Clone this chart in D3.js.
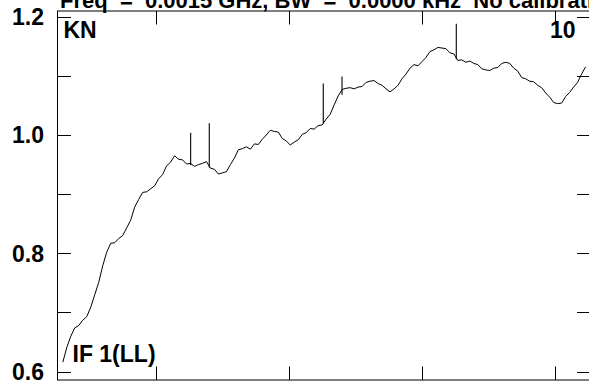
<!DOCTYPE html>
<html><head><meta charset="utf-8">
<script src="https://cdn.jsdelivr.net/npm/d3@7"></script>
<style>
html,body{margin:0;padding:0;background:#fff;overflow:hidden;}
text{font-family:"Liberation Sans",Arial,sans-serif;font-weight:bold;fill:#000;white-space:pre;}
</style></head>
<body><svg id="c" width="589" height="383"></svg>
<script>
// ---- data ----
const title = "Freq  =  0.0015 GHz, BW  =  0.0000 kHz  No calibration";
const cornerLabels = ["KN", "10", "IF 1(LL)"];
const yTickLabels = [0.6, 0.8, 1.0, 1.2];
const yMinorTicks = [0.6, 0.7, 0.8, 0.9, 1.0, 1.1, 1.2];
const xTicks = [100, 200, 300, 400];
const chanStart = 30, chanStep = 3;
const amplitude = [
0.616,0.641,0.660,0.674,0.678,0.687,0.693,0.709,0.730,0.751,
0.779,0.802,0.817,0.818,0.825,0.830,0.843,0.856,0.878,0.891,
0.903,0.904,0.909,0.914,0.926,0.933,0.948,0.954,0.965,0.959,
0.958,0.951,0.952,0.947,0.950,0.952,0.955,0.944,0.942,0.934,
0.936,0.938,0.950,0.961,0.975,0.977,0.980,0.976,0.985,0.984,
0.993,1.000,1.008,1.006,1.005,0.994,0.990,0.983,0.988,0.992,
1.001,1.004,1.011,1.010,1.016,1.017,1.027,1.035,1.051,1.066,
1.077,1.079,1.080,1.078,1.081,1.082,1.089,1.091,1.092,1.087,
1.084,1.078,1.073,1.078,1.084,1.095,1.103,1.113,1.119,1.117,
1.124,1.131,1.141,1.144,1.148,1.147,1.146,1.139,1.137,1.126,
1.127,1.123,1.125,1.121,1.119,1.112,1.110,1.109,1.113,1.114,
1.121,1.123,1.121,1.113,1.108,1.097,1.095,1.091,1.090,1.084,
1.080,1.071,1.064,1.055,1.053,1.054,1.065,1.072,1.081,1.089,
1.103,1.115];
const spikeChan = [126.1, 140.1, 225.8, 239.9, 325.8];
const spikeTop  = [1.004, 1.020, 1.087, 1.099, 1.188];
const spikeBase = [0.949, 0.945, 1.020, 1.068, 1.128];

// ---- layout ----
const L = 57.5, R = 590.5, T = 11, B = 380;
const x = d3.scaleLinear().domain([26, 426.7]).range([L, R]);
const y = d3.scaleLinear().domain([0.5859, 1.2096]).range([B, T]);
const svg = d3.select("#c");
const tickLen = 13.5;
const fs = 23;

// frame
svg.append("rect").attr("x", L).attr("y", T).attr("width", R - L).attr("height", B - T)
  .attr("fill", "none").attr("stroke", "#000").attr("stroke-width", 1);

// y ticks (both sides, inward)
const yt = svg.append("g").attr("stroke", "#000").attr("stroke-width", 1);
yMinorTicks.forEach(v => {
  const yy = Math.round(y(v)) + 0.5;
  yt.append("line").attr("x1", L).attr("x2", L + tickLen).attr("y1", yy).attr("y2", yy);
  yt.append("line").attr("x1", R).attr("x2", R - tickLen).attr("y1", yy).attr("y2", yy);
});
// x ticks (top and bottom, inward)
xTicks.forEach(v => {
  const xx = Math.round(x(v)) + 0.5;
  yt.append("line").attr("x1", xx).attr("x2", xx).attr("y1", T).attr("y2", T + tickLen);
  yt.append("line").attr("x1", xx).attr("x2", xx).attr("y1", B).attr("y2", B - tickLen);
});
// y labels
svg.append("g").selectAll("text").data(yTickLabels).join("text")
  .attr("x", 44).attr("y", d => y(d) + 8.3).attr("text-anchor", "end")
  .attr("font-size", fs).text(d => d.toFixed(1));

// title (partly clipped at top)
svg.append("text").attr("x", 60).attr("y", 7.5).attr("font-size", 22).text(title);

// corner labels
svg.append("text").attr("x", 63.5).attr("y", 38.3).attr("font-size", fs).text(cornerLabels[0]);
svg.append("text").attr("x", 575.5).attr("y", 38.3).attr("text-anchor", "end").attr("font-size", fs).text(cornerLabels[1]);
svg.append("text").attr("x", 72.5).attr("y", 362).attr("font-size", fs).text(cornerLabels[2]);

// series
const pts = amplitude.map((v, i) => [chanStart + chanStep * i, v]);
svg.append("path").datum(pts)
  .attr("d", d3.line().x(d => x(d[0])).y(d => y(d[1])))
  .attr("fill", "none").attr("stroke", "#000").attr("stroke-width", 1)
  .attr("stroke-linejoin", "round");
// narrow spikes
svg.append("g").selectAll("line").data(spikeChan).join("line")
  .attr("x1", d => x(d)).attr("x2", d => x(d))
  .attr("y1", (d, i) => y(spikeBase[i])).attr("y2", (d, i) => y(spikeTop[i]))
  .attr("stroke", "#000").attr("stroke-width", 1.1);
</script></body></html>
